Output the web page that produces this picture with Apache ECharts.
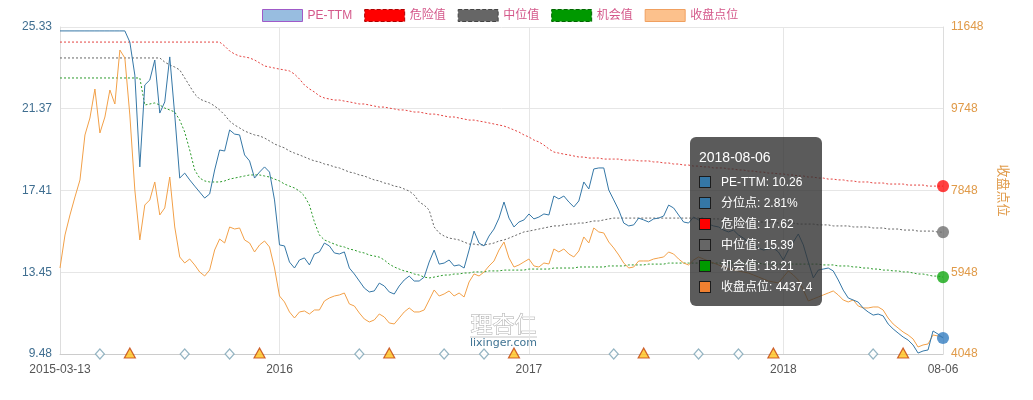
<!DOCTYPE html>
<html><head><meta charset="utf-8">
<script src="https://cdn.jsdelivr.net/npm/echarts@6/dist/echarts.min.js"></script>
<style>html,body{margin:0;padding:0;background:#fff}#c{width:1033px;height:400px}</style>
</head><body><div id="c"></div>
<script>
// ---------------- data ----------------
const peTTM = [
25.14,25.14,25.14,25.14,25.14,25.14,25.14,25.14,25.14,25.14,
25.14,25.14,25.14,25.14,24.60,23.00,18.55,22.52,22.76,23.73,
21.16,21.70,23.88,21.07,18.01,18.25,17.92,17.62,17.33,17.04,
17.24,18.40,19.37,19.32,20.34,20.14,20.10,19.13,18.84,18.01,
18.30,18.55,18.30,16.95,14.77,14.72,13.94,13.65,14.04,14.14,
13.80,14.33,14.43,14.86,14.72,14.38,14.33,14.43,13.65,13.36,
13.02,12.68,12.49,12.54,12.92,12.78,12.49,12.39,12.78,13.07,
13.26,13.02,13.02,13.21,13.94,14.52,13.84,13.89,14.04,13.75,
13.80,13.65,14.52,15.44,14.86,14.72,15.20,15.54,16.07,16.85,
16.07,15.64,15.88,15.98,16.27,16.03,16.12,16.27,16.22,17.14,
17.00,17.14,16.85,16.61,16.90,17.82,17.48,18.45,18.50,18.50,
17.43,16.95,16.46,15.83,15.69,15.74,16.07,15.98,15.88,16.03,
16.07,16.17,16.70,16.56,16.22,15.88,15.83,16.12,15.98,15.88,
15.78,15.69,15.64,15.49,15.40,15.49,15.25,15.10,14.91,14.77,
14.62,14.52,14.57,14.62,14.43,14.04,14.52,14.91,15.30,14.77,
13.94,13.17,13.55,13.60,13.65,13.51,13.07,12.58,12.20,12.10,
12.00,11.71,11.52,11.37,11.42,11.33,10.94,10.70,10.50,10.31,
10.16,9.92,9.53,9.63,9.68,10.60,10.45,10.26];

const dangerVal = [
24.60,24.60,24.60,24.60,24.60,24.60,24.60,24.60,24.60,24.60,
24.60,24.60,24.60,24.60,24.60,24.60,24.60,24.60,24.60,24.60,
24.60,24.60,24.60,24.60,24.60,24.60,24.60,24.60,24.60,24.60,
24.60,24.60,24.60,24.41,24.17,24.02,23.92,23.88,23.83,23.73,
23.59,23.44,23.39,23.34,23.29,23.25,23.20,23.05,22.81,22.52,
22.33,22.18,21.99,21.89,21.84,21.79,21.79,21.74,21.70,21.65,
21.60,21.60,21.55,21.50,21.45,21.45,21.40,21.36,21.31,21.31,
21.26,21.21,21.21,21.16,21.11,21.11,21.07,21.02,20.97,20.97,
20.92,20.87,20.82,20.82,20.77,20.73,20.68,20.63,20.58,20.53,
20.44,20.34,20.24,20.10,20.00,19.85,19.76,19.61,19.42,19.27,
19.22,19.17,19.13,19.08,19.03,19.03,18.98,18.98,18.98,18.93,
18.93,18.93,18.93,18.88,18.88,18.88,18.84,18.84,18.84,18.79,
18.79,18.74,18.74,18.69,18.69,18.64,18.64,18.59,18.59,18.55,
18.55,18.50,18.50,18.50,18.45,18.45,18.40,18.40,18.35,18.35,
18.30,18.30,18.25,18.25,18.21,18.21,18.16,18.16,18.11,18.11,
18.06,18.06,18.01,18.01,17.96,17.96,17.92,17.92,17.87,17.87,
17.82,17.82,17.82,17.77,17.77,17.77,17.72,17.72,17.72,17.72,
17.67,17.67,17.67,17.67,17.62,17.62,17.62,17.62];

const medianVal = [
23.83,23.83,23.83,23.83,23.83,23.83,23.83,23.83,23.83,23.83,
23.83,23.83,23.83,23.83,23.83,23.83,23.83,23.83,23.83,23.83,
23.83,23.63,23.49,23.39,23.25,22.86,22.47,22.08,21.84,21.74,
21.65,21.50,21.31,21.07,20.77,20.58,20.44,20.29,20.19,20.10,
20.05,19.95,19.81,19.66,19.56,19.47,19.32,19.22,19.13,19.03,
18.93,18.84,18.79,18.69,18.64,18.55,18.50,18.40,18.30,18.25,
18.16,18.11,18.01,17.92,17.87,17.77,17.72,17.62,17.58,17.48,
17.38,17.19,16.85,16.70,16.46,15.64,15.35,15.20,15.10,15.06,
15.01,14.91,14.81,14.81,14.77,14.77,14.81,14.86,14.96,15.01,
15.10,15.20,15.30,15.40,15.44,15.49,15.54,15.59,15.64,15.69,
15.69,15.74,15.78,15.78,15.83,15.83,15.88,15.93,15.93,15.98,
16.03,16.07,16.07,16.07,16.07,16.07,16.07,16.07,16.07,16.07,
16.07,16.07,16.07,16.07,16.07,16.07,16.07,16.07,16.07,16.07,
16.03,16.03,16.03,15.98,15.98,15.98,15.98,15.93,15.93,15.93,
15.88,15.88,15.88,15.88,15.83,15.83,15.83,15.83,15.78,15.78,
15.78,15.78,15.74,15.74,15.74,15.69,15.69,15.69,15.69,15.64,
15.64,15.64,15.64,15.59,15.59,15.59,15.54,15.54,15.54,15.49,
15.49,15.49,15.44,15.44,15.44,15.44,15.39,15.39];

const chanceVal = [
22.86,22.86,22.86,22.86,22.86,22.86,22.86,22.86,22.86,22.86,
22.86,22.86,22.86,22.86,22.86,22.86,22.86,21.55,21.60,21.65,
21.55,21.40,21.31,21.21,20.82,20.24,19.37,18.40,18.01,17.87,
17.82,17.82,17.82,17.87,17.96,18.01,18.06,18.11,18.16,18.16,
18.16,18.11,18.06,17.96,17.87,17.72,17.62,17.53,17.38,17.14,
16.70,15.88,15.25,15.01,14.91,14.81,14.72,14.67,14.57,14.52,
14.43,14.38,14.28,14.23,14.18,14.04,13.84,13.70,13.60,13.51,
13.46,13.36,13.31,13.21,13.17,13.21,13.26,13.31,13.31,13.36,
13.36,13.41,13.41,13.46,13.46,13.46,13.51,13.51,13.51,13.55,
13.55,13.55,13.55,13.55,13.60,13.60,13.60,13.60,13.60,13.65,
13.65,13.65,13.65,13.65,13.70,13.70,13.70,13.70,13.70,13.70,
13.75,13.75,13.75,13.75,13.80,13.80,13.80,13.80,13.84,13.84,
13.84,13.84,13.89,13.89,13.89,13.89,13.89,13.89,13.89,13.89,
13.89,13.89,13.89,13.89,13.89,13.89,13.89,13.89,13.89,13.89,
13.89,13.84,13.84,13.84,13.84,13.84,13.84,13.84,13.84,13.84,
13.84,13.84,13.84,13.80,13.80,13.80,13.75,13.75,13.75,13.70,
13.70,13.65,13.65,13.60,13.60,13.55,13.55,13.51,13.51,13.46,
13.46,13.41,13.36,13.36,13.31,13.26,13.26,13.21];

const closeVal = [
6047,6814,7279,7697,8092,9138,9533,10207,9185,9556,
10184,9858,11113,10928,9603,7860,6698,7511,7628,8046,
7279,7442,8162,7000,6303,6163,6256,6117,5954,5861,
6001,6465,6721,6628,7000,6953,6977,6698,6628,6419,
6582,6675,6535,6047,5396,5257,5025,4885,5025,5048,
4978,5071,5071,5280,5350,5396,5420,5466,5211,5164,
5001,4862,4792,4839,4978,4908,4769,4746,4885,5025,
5118,5025,5025,5071,5303,5536,5396,5443,5513,5396,
5466,5373,5722,5908,5861,5954,6094,6210,6465,6651,
6280,6070,6117,6187,6256,6094,6070,6163,6140,6489,
6419,6489,6372,6303,6442,6768,6628,6977,6884,6861,
6651,6512,6349,6163,6047,6070,6210,6210,6210,6256,
6280,6303,6419,6372,6256,6163,6117,6233,6303,6256,
6210,6163,6117,6070,6024,6001,5977,5954,5931,5884,
5838,5791,5745,5722,5699,5838,5977,5884,5768,5536,
5280,5327,5373,5420,5466,5513,5420,5303,5257,5303,
5164,5118,5118,5141,5141,5071,4885,4746,4653,4560,
4490,4397,4211,4258,4281,4490,4467,4437.4];

const pePercentileLast = 2.81;           // 分位点 (%) on the last day
const diamondIdx = [8, 25, 34, 60, 77, 85, 111, 128, 136, 163];
const triangleIdx = [14, 40, 66, 91, 117, 143, 169];
const xTickIdx = [0, 44, 94, 145, 177];
const xTickText = ['2015-03-13', '2016', '2017', '2018', '08-06'];
const leftTicks = ['9.48', '13.45', '17.41', '21.37', '25.33'];
const rightTicks = ['4048', '5948', '7848', '9748', '11648'];
const startDate = '2015-03-13', endDate = '2018-08-06';

// categories: weekly dates, last one = endDate
const N = peTTM.length;
const t0 = Date.UTC(2015, 2, 13);
const dates = [];
for (let i = 0; i < N; i++) {
  if (i === N - 1) { dates.push(endDate); continue; }
  dates.push(new Date(t0 + i * 7 * 864e5).toISOString().slice(0, 10));
}

const LMIN = 9.484, LINT = 3.9615, LMAX = 25.33;
const RMIN = 4048, RINT = 1900, RMAX = 11648;
const FONT = '"Liberation Sans", Arial, "Noto Sans CJK SC", sans-serif';

const C_PE = '#3577a6', C_RED = '#e3423f', C_GRAY = '#666666', C_GREEN = '#2b9a2b', C_ORANGE = '#f2a048';

const chart = echarts.init(document.getElementById('c'), null, { renderer: 'canvas' });

const sq = c => '<span style="display:inline-block;width:10px;height:10px;border:1px solid #1c1c1c;background:' + c + ';vertical-align:middle;margin:-2px 10px 0 0"></span>';

chart.setOption({
  animation: false,
  textStyle: { fontFamily: FONT },
  grid: { left: 60, right: 90, top: 27, bottom: 46 },
  legend: {
    left: 257, top: 4, itemWidth: 40, itemHeight: 12, itemGap: 12,
    textStyle: { color: '#d4588a', fontSize: 12, fontFamily: FONT },
    selectedMode: false,
    data: [
      { name: 'PE-TTM', icon: 'rect', itemStyle: { color: '#98bde0', borderColor: '#a05ac8', borderWidth: 1 } },
      { name: '危险值', icon: 'rect', itemStyle: { color: '#ff0000', borderColor: '#b00000', borderWidth: 1, borderType: 'dashed' } },
      { name: '中位值', icon: 'rect', itemStyle: { color: '#666666', borderColor: '#444', borderWidth: 1, borderType: 'dashed' } },
      { name: '机会值', icon: 'rect', itemStyle: { color: '#009900', borderColor: '#006600', borderWidth: 1, borderType: 'dashed' } },
      { name: '收盘点位', icon: 'rect', itemStyle: { color: '#fcc18c', borderColor: '#f0a060', borderWidth: 1 } }
    ]
  },
  tooltip: {
    trigger: 'axis', triggerOn: 'none', alwaysShowContent: true,
    axisPointer: { type: 'none' },
    position: [690, 137], transitionDuration: 0,
    backgroundColor: 'rgba(50,50,50,0.8)', borderWidth: 0,
    padding: [10, 10, 8, 9],
    textStyle: { color: '#fff', fontSize: 12, fontFamily: FONT },
    extraCssText: 'border-radius:6px;box-shadow:none;white-space:nowrap;',
    formatter: function (params) {
      const i = params[0].dataIndex;
      let h = '<div style="font-size:14px;line-height:20px;height:20px;margin-bottom:5px">' + dates[i] + '</div>';
      const rows = [
        [C_PE, 'PE-TTM: ' + peTTM[i].toFixed(2)],
        [C_PE, '分位点: ' + pePercentileLast.toFixed(2) + '%'],
        ['#ff0000', '危险值: ' + dangerVal[i].toFixed(2)],
        ['#666666', '中位值: ' + medianVal[i].toFixed(2)],
        ['#009900', '机会值: ' + chanceVal[i].toFixed(2)],
        ['#f08030', '收盘点位: ' + closeVal[i]]
      ];
      rows.forEach(r => { h += '<div style="height:21px;line-height:21px;font-size:12px">' + sq(r[0]) + r[1] + '</div>'; });
      return h;
    }
  },
  xAxis: {
    type: 'category', data: dates, boundaryGap: false,
    axisLine: { lineStyle: { color: '#cccccc' } },
    axisTick: { show: false },
    axisLabel: {
      color: '#555', fontSize: 12, margin: 10,
      interval: (idx) => xTickIdx.includes(idx),
      formatter: (v, idx) => xTickText[xTickIdx.indexOf(idx)] || ''
    },
    splitLine: { show: true, interval: (idx) => xTickIdx.includes(idx) && idx !== 0 && idx !== N - 1, lineStyle: { color: '#e6e6e6' } }
  },
  yAxis: [
    {
      type: 'value', min: LMIN, max: LMAX, interval: LINT, position: 'left',
      axisLine: { show: true, lineStyle: { color: '#dddddd' } }, axisTick: { show: false },
      axisLabel: { color: '#3f6e90', fontSize: 12, margin: 8, formatter: v => leftTicks[Math.round((v - LMIN) / LINT)] },
      splitLine: { lineStyle: { color: '#e6e6e6' } }
    },
    {
      type: 'value', min: RMIN, max: RMAX, interval: RINT, position: 'right',
      name: '收盘点位', nameLocation: 'middle', nameGap: 53, nameRotate: -90,
      nameTextStyle: { color: '#e09a48', fontSize: 13, fontFamily: FONT },
      axisLine: { show: true, lineStyle: { color: '#dddddd' } }, axisTick: { show: false },
      axisLabel: { color: '#e09a48', fontSize: 12, margin: 8, formatter: v => rightTicks[Math.round((v - RMIN) / RINT)] },
      splitLine: { show: false }
    }
  ],
  graphic: [
    { type: 'text', left: 470, top: 312, z: 0, style: { text: '理杏仁', font: '22px "Noto Sans CJK SC"', fill: '#ffffff', stroke: '#a8a8a8', lineWidth: 1 } },
    { type: 'line', z: 0, shape: { x1: 470, y1: 337, x2: 537, y2: 337 }, style: { stroke: '#c8c8c8', lineWidth: 1 } },
    { type: 'text', left: 470, top: 338, z: 0, style: { text: 'lixinger.com', font: '11px "DejaVu Sans", sans-serif', fill: '#3f7393' } }
  ],
  series: [
    { name: 'PE-TTM', type: 'line', yAxisIndex: 0, data: peTTM, symbol: 'none', z: 6,
      lineStyle: { color: C_PE, width: 1 }, itemStyle: { color: C_PE }, emphasis: { disabled: true } },
    { name: '危险值', type: 'line', yAxisIndex: 0, data: dangerVal, symbol: 'none', z: 3,
      lineStyle: { color: C_RED, width: 1, type: [2, 2] }, itemStyle: { color: '#ff0000' }, emphasis: { disabled: true } },
    { name: '中位值', type: 'line', yAxisIndex: 0, data: medianVal, symbol: 'none', z: 3,
      lineStyle: { color: C_GRAY, width: 1, type: [2, 2] }, itemStyle: { color: '#666' }, emphasis: { disabled: true } },
    { name: '机会值', type: 'line', yAxisIndex: 0, data: chanceVal, symbol: 'none', z: 3,
      lineStyle: { color: C_GREEN, width: 1, type: [2, 2] }, itemStyle: { color: '#009900' }, emphasis: { disabled: true } },
    { name: '收盘点位', type: 'line', yAxisIndex: 1, data: closeVal, symbol: 'none', z: 4,
      lineStyle: { color: C_ORANGE, width: 1 }, itemStyle: { color: '#fcc18c' }, emphasis: { disabled: true } },
    // end markers
    { type: 'scatter', yAxisIndex: 0, symbolSize: 11, z: 8, silent: true, clip: false, itemStyle: { color: '#ee1111' }, data: [[N - 1, dangerVal[N - 1]]] },
    { type: 'scatter', yAxisIndex: 0, symbolSize: 11, z: 8, silent: true, clip: false, itemStyle: { color: '#666666' }, data: [[N - 1, medianVal[N - 1]]] },
    { type: 'scatter', yAxisIndex: 0, symbolSize: 11, z: 8, silent: true, clip: false, itemStyle: { color: '#119911' }, data: [[N - 1, chanceVal[N - 1]]] },
    { type: 'scatter', yAxisIndex: 0, symbolSize: 11, z: 8, silent: true, clip: false, itemStyle: { color: '#2f72b0' }, data: [[N - 1, peTTM[N - 1]]] },
    // bottom event markers
    { type: 'scatter', yAxisIndex: 0, symbol: 'diamond', symbolSize: [9, 10], z: 7, silent: true, clip: false,
      itemStyle: { color: '#ffffff', borderColor: '#7aa3b4', borderWidth: 1.2 },
      data: diamondIdx.map(i => [i, LMIN]) },
    { type: 'scatter', yAxisIndex: 0, symbol: 'triangle', symbolSize: [11, 10], symbolOffset: [0, -1], z: 7, silent: true, clip: false,
      itemStyle: { color: '#ffc21a', borderColor: '#c2410c', borderWidth: 1.2 },
      data: triangleIdx.map(i => [i, LMIN]) }
  ]
});

function tip() { chart.dispatchAction({ type: 'showTip', seriesIndex: 0, dataIndex: N - 1 }); }
tip();
setTimeout(tip, 0);
setTimeout(tip, 100);
</script></body></html>
